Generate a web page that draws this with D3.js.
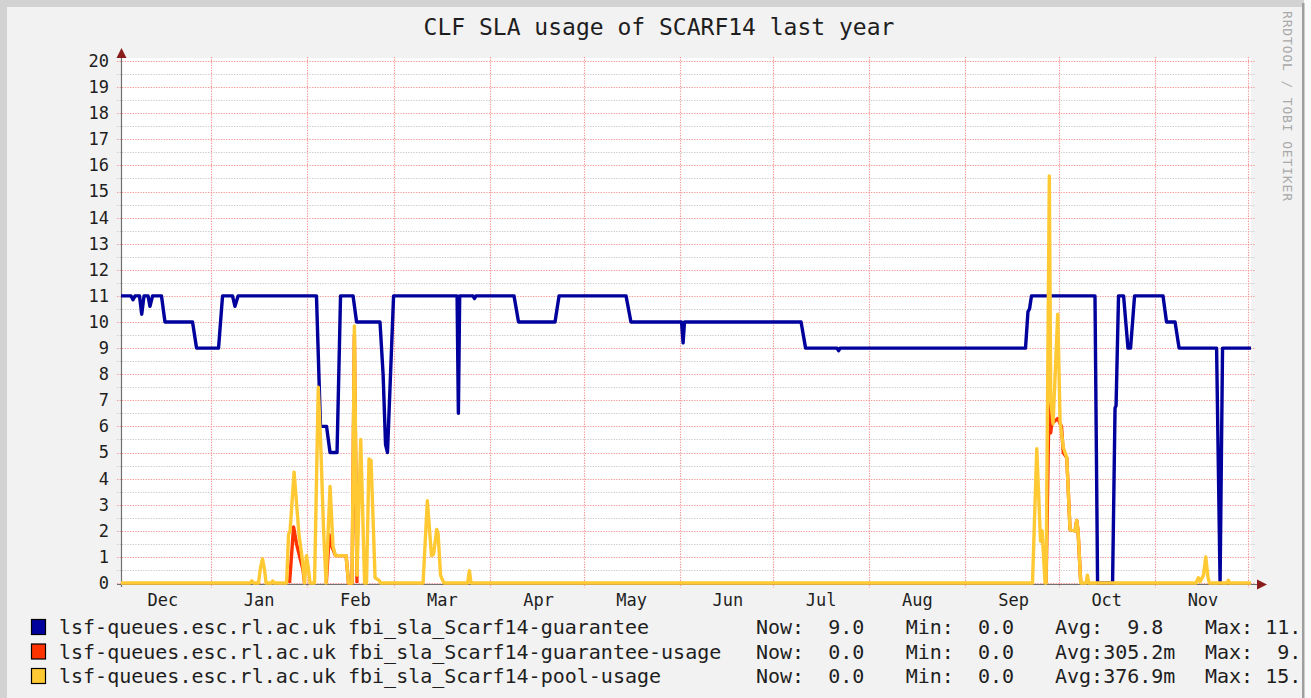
<!DOCTYPE html>
<html>
<head>
<meta charset="utf-8">
<script src="https://cdn.jsdelivr.net/npm/d3@7"></script>
<style>
  html, body { margin: 0; padding: 0; background: #ffffff; }
  svg { display: block; }
  text { font-family: "DejaVu Sans Mono", "Liberation Mono", monospace; }
</style>
</head>
<body>
<svg id="chart" width="1311" height="698"></svg>
<script>
// ---- data -------------------------------------------------------------
const titleText = "CLF SLA usage of SCARF14 last year";
const watermarkText = "RRDTOOL / TOBI OETIKER";

const timeDomain = ["2014-12-03T00", "2015-12-01T23"];
const yTickValues = [0, 1, 2, 3, 4, 5, 6, 7, 8, 9, 10, 11, 12, 13, 14, 15, 16, 17, 18, 19, 20];
const yMinorValues = [0.5, 1.5, 2.5, 3.5, 4.5, 5.5, 6.5, 7.5, 8.5, 9.5, 10.5, 11.5, 12.5, 13.5, 14.5, 15.5, 16.5, 17.5, 18.5, 19.5];

const monthStarts = ["2015-01-01T00", "2015-02-01T00", "2015-03-01T00", "2015-04-01T00",
  "2015-05-01T00", "2015-06-01T00", "2015-07-01T00", "2015-08-01T00", "2015-09-01T00",
  "2015-10-01T00", "2015-11-01T00", "2015-12-01T00"];
const monthLabelDates = ["2014-12-16T08", "2015-01-16T08", "2015-02-16T08", "2015-03-16T08",
  "2015-04-16T08", "2015-05-16T08", "2015-06-16T08", "2015-07-16T08", "2015-08-16T08",
  "2015-09-16T08", "2015-10-16T08", "2015-11-16T08"];
const monthLabels = ["Dec", "Jan", "Feb", "Mar", "Apr", "May", "Jun", "Jul", "Aug", "Sep", "Oct", "Nov"];

// fbi_sla_Scarf14-guarantee
const guarantee = [
  ["2014-12-03T00", 11], ["2014-12-06T06", 11], ["2014-12-06T21", 10.85], ["2014-12-07T12", 11],
  ["2014-12-08T23", 11], ["2014-12-09T16", 10.3], ["2014-12-10T10", 11], ["2014-12-11T17", 11],
  ["2014-12-12T08", 10.6], ["2014-12-13T04", 11], ["2014-12-16T01", 11], ["2014-12-17T04", 10],
  ["2014-12-26T01", 10], ["2014-12-27T08", 9], ["2015-01-03T10", 9], ["2015-01-04T17", 11],
  ["2015-01-07T22", 11], ["2015-01-08T17", 10.6], ["2015-01-09T17", 11], ["2015-02-03T23", 11],
  ["2015-02-05T06", 6], ["2015-02-07T05", 6], ["2015-02-08T08", 5], ["2015-02-10T14", 5],
  ["2015-02-11T17", 11], ["2015-02-15T18", 11], ["2015-02-16T21", 10], ["2015-02-24T10", 10],
  ["2015-02-25T10", 8], ["2015-02-26T05", 5.3], ["2015-02-26T20", 5], ["2015-02-28T19", 11],
  ["2015-03-21T06", 11], ["2015-03-21T16", 6.5], ["2015-03-22T02", 11], ["2015-03-26T09", 11],
  ["2015-03-26T21", 10.9], ["2015-03-27T08", 11], ["2015-04-08T14", 11], ["2015-04-10T01", 10],
  ["2015-04-21T19", 10], ["2015-04-23T02", 11], ["2015-05-14T16", 11], ["2015-05-16T06", 10],
  ["2015-06-01T13", 10], ["2015-06-02T01", 9.2], ["2015-06-02T12", 10], ["2015-07-10T01", 10],
  ["2015-07-11T12", 9], ["2015-07-21T15", 9], ["2015-07-22T03", 8.9], ["2015-07-22T14", 9],
  ["2015-09-20T08", 9], ["2015-09-21T03", 10.4], ["2015-09-21T15", 10.5], ["2015-09-22T06", 11],
  ["2015-10-12T17", 11], ["2015-10-13T13", 0], ["2015-10-18T09", 0], ["2015-10-19T04", 6.7],
  ["2015-10-19T12", 6.8], ["2015-10-20T07", 11], ["2015-10-21T22", 11], ["2015-10-23T08", 9],
  ["2015-10-24T04", 9], ["2015-10-25T11", 11], ["2015-11-03T15", 11], ["2015-11-04T18", 10],
  ["2015-11-07T12", 10], ["2015-11-08T19", 9], ["2015-11-20T21", 9], ["2015-11-22T00", 0],
  ["2015-11-22T19", 9], ["2015-12-01T23", 9]
];

// fbi_sla_Scarf14-guarantee-usage (null = no sample recorded)
const guaranteeUsage = [
  ["2015-01-26T07", 0], ["2015-01-27T14", 2.15], ["2015-01-28T13", 1.5],
  ["2015-01-29T16", 0.95], ["2015-01-30T15", 0.5], ["2015-01-31T03", 0], ["2015-01-31T04", null],
  ["2015-02-07T03", 0], ["2015-02-08T02", 1.85], ["2015-02-08T21", 1.4], ["2015-02-10T02", 1.05],
  ["2015-02-13T12", 1.05], ["2015-02-14T07", 0], ["2015-02-15T10", 0], ["2015-02-16T04", 9.5],
  ["2015-02-17T00", 0], ["2015-02-17T01", null],
  ["2015-09-26T23", 0], ["2015-09-27T22", 7.0], ["2015-09-28T11", 5.75], ["2015-09-28T18", 6.1],
  ["2015-09-30T17", 6.3], ["2015-10-01T22", 6.0], ["2015-10-02T12", 5.0], ["2015-10-03T15", 4.8],
  ["2015-10-04T16", 2.05], ["2015-10-06T07", 2.0], ["2015-10-06T20", 2.4], ["2015-10-07T06", 2.0],
  ["2015-10-08T03", 0]
];

// fbi_sla_Scarf14-pool-usage
const poolUsage = [
  ["2014-12-03T00", 0], ["2015-01-13T13", 0], ["2015-01-14T03", 0.08], ["2015-01-14T17", 0],
  ["2015-01-16T07", 0], ["2015-01-16T23", 0.6], ["2015-01-17T14", 0.92], ["2015-01-18T06", 0.5],
  ["2015-01-18T17", 0], ["2015-01-20T12", 0], ["2015-01-20T21", 0.08], ["2015-01-21T07", 0],
  ["2015-01-25T08", 0], ["2015-01-25T23", 1.85], ["2015-01-26T11", 2.0], ["2015-01-27T18", 4.25],
  ["2015-01-29T08", 1.85], ["2015-01-30T11", 0.85], ["2015-01-31T03", 0], ["2015-01-31T18", 1.05],
  ["2015-02-01T10", 0.5], ["2015-02-01T21", 0], ["2015-02-03T08", 0], ["2015-02-04T13", 7.5],
  ["2015-02-05T10", 5.0], ["2015-02-06T06", 2.0], ["2015-02-07T01", 0], ["2015-02-08T08", 3.7],
  ["2015-02-09T07", 1.4], ["2015-02-10T02", 1.05], ["2015-02-13T12", 1.05], ["2015-02-14T07", 0],
  ["2015-02-15T10", 0], ["2015-02-16T04", 9.85], ["2015-02-17T00", 0.3], ["2015-02-18T05", 5.5],
  ["2015-02-19T11", 0], ["2015-02-20T02", 0], ["2015-02-20T21", 4.75], ["2015-02-21T13", 4.7],
  ["2015-02-22T20", 0.2], ["2015-02-24T03", 0.1], ["2015-02-24T14", 0], ["2015-03-10T07", 0],
  ["2015-03-11T16", 3.15], ["2015-03-13T00", 1.05], ["2015-03-13T16", 1.1], ["2015-03-14T17", 2.05],
  ["2015-03-15T03", 1.9], ["2015-03-15T22", 0.3], ["2015-03-16T10", 0.15], ["2015-03-17T01", 0],
  ["2015-03-24T15", 0], ["2015-03-25T05", 0.47], ["2015-03-25T18", 0], ["2015-09-22T14", 0],
  ["2015-09-23T23", 5.15], ["2015-09-25T04", 1.6], ["2015-09-25T16", 2.0], ["2015-09-26T15", 0],
  ["2015-09-26T23", 0], ["2015-09-28T00", 15.6], ["2015-09-28T11", 7.0], ["2015-09-29T05", 6.1],
  ["2015-09-30T17", 10.3], ["2015-10-01T11", 6.2], ["2015-10-02T12", 5.2], ["2015-10-03T15", 4.8],
  ["2015-10-04T16", 2.05], ["2015-10-06T07", 2.0], ["2015-10-06T20", 2.4], ["2015-10-07T06", 2.0],
  ["2015-10-08T03", 0], ["2015-10-09T20", 0], ["2015-10-10T06", 0.3], ["2015-10-10T17", 0],
  ["2015-11-14T06", 0], ["2015-11-15T00", 0.2], ["2015-11-15T13", 0.05], ["2015-11-16T16", 0.3],
  ["2015-11-17T09", 1.0], ["2015-11-18T03", 0.2], ["2015-11-18T14", 0], ["2015-11-24T06", 0],
  ["2015-11-24T16", 0.1], ["2015-11-25T01", 0], ["2015-12-01T23", 0]
];

const seriesNames = [
  "lsf-queues.esc.rl.ac.uk fbi_sla_Scarf14-guarantee",
  "lsf-queues.esc.rl.ac.uk fbi_sla_Scarf14-guarantee-usage",
  "lsf-queues.esc.rl.ac.uk fbi_sla_Scarf14-pool-usage"
];
const nowText = ["  9.0", "  0.0", "  0.0"];
const minText = ["  0.0", "  0.0", "  0.0"];
const avgText = ["  9.8", "305.2m", "376.9m"];
const maxText = [" 11.0", "  9.5", " 15.6"];

// ---- styles & layout --------------------------------------------------
const seriesColors = ["#00009c", "#ff3300", "#ffc933"];
const W = 1311, H = 698;
const plot = { left: 121, right: 1251, top: 61, bottom: 583 };

const parse = d3.utcParse("%Y-%m-%dT%H");
const svg = d3.select("#chart");

const x = d3.scaleUtc().domain(timeDomain.map(parse)).range([plot.left, plot.right]);
const y = d3.scaleLinear().domain([0, 20]).range([plot.bottom, plot.top]);

// frame
svg.append("rect").attr("x", 0).attr("y", 0).attr("width", W).attr("height", H).attr("fill", "#fafafa");
svg.append("rect").attr("x", 0).attr("y", 0).attr("width", 1304).attr("height", H).attr("fill", "#d2d2d2");
svg.append("rect").attr("x", 7).attr("y", 7).attr("width", 1295).attr("height", H - 7).attr("fill", "#f2f2f2");
svg.append("rect").attr("x", 1302).attr("y", 3).attr("width", 2.5).attr("height", H - 3).attr("fill", "#9e9e9e");

const defs = svg.append("defs");
defs.append("clipPath").attr("id", "frameClip")
  .append("rect").attr("x", 0).attr("y", 0).attr("width", 1302).attr("height", H);

const root = svg.append("g").attr("clip-path", "url(#frameClip)");

// plot canvas
root.append("rect")
  .attr("x", plot.left).attr("y", plot.top - 3)
  .attr("width", plot.right - plot.left).attr("height", plot.bottom - plot.top + 3)
  .attr("fill", "#ffffff");

// grid: grey dotted half-unit lines, red dotted unit and month lines
const grid = root.append("g");
grid.selectAll("line.minor").data(yMinorValues).join("line")
  .attr("class", "minor")
  .attr("x1", plot.left - 4).attr("x2", plot.right + 4)
  .attr("y1", d => Math.round(y(d)) + 0.5).attr("y2", d => Math.round(y(d)) + 0.5)
  .attr("stroke", "#cccccc").attr("stroke-width", 1.2).attr("stroke-dasharray", "1.3 1.3");
grid.selectAll("line.major").data(yTickValues).join("line")
  .attr("class", "major")
  .attr("x1", plot.left - 4).attr("x2", plot.right + 4)
  .attr("y1", d => Math.round(y(d)) + 0.5).attr("y2", d => Math.round(y(d)) + 0.5)
  .attr("stroke", "#f59898").attr("stroke-width", 1.2).attr("stroke-dasharray", "1.3 1.3");
grid.selectAll("line.vmajor").data(monthStarts.map(parse)).join("line")
  .attr("class", "vmajor")
  .attr("x1", d => Math.round(x(d)) + 0.5).attr("x2", d => Math.round(x(d)) + 0.5)
  .attr("y1", plot.top - 4).attr("y2", plot.bottom + 5)
  .attr("stroke", "#f59898").attr("stroke-width", 1.2).attr("stroke-dasharray", "1.3 1.3");

// axes lines
root.append("line").attr("x1", plot.left + 0.5).attr("x2", plot.left + 0.5)
  .attr("y1", plot.bottom + 4).attr("y2", plot.top - 8)
  .attr("stroke", "#707070").attr("stroke-width", 1.2);
root.append("line").attr("x1", plot.left - 4).attr("x2", plot.right + 10)
  .attr("y1", plot.bottom + 1.5).attr("y2", plot.bottom + 1.5)
  .attr("stroke", "#707070").attr("stroke-width", 1.2);

// y axis labels
const yAxis = d3.axisLeft(y).tickValues(yTickValues).tickSize(0).tickPadding(12).tickFormat(d3.format("d"));
const yg = root.append("g").attr("transform", `translate(${plot.left},0)`).call(yAxis);
yg.select(".domain").remove();
yg.selectAll("text").attr("font-size", 17).attr("fill", "#1e1e1e")
  .attr("font-family", "DejaVu Sans Mono");

// x axis month labels
const xAxis = d3.axisBottom(x).tickValues(monthLabelDates.map(parse)).tickSize(0).tickPadding(0)
  .tickFormat((d, i) => monthLabels[i]);
const xg = root.append("g").attr("transform", `translate(0,${plot.bottom})`).call(xAxis);
xg.select(".domain").remove();
xg.selectAll("text").attr("font-size", 17).attr("fill", "#1e1e1e")
  .attr("font-family", "DejaVu Sans Mono").attr("dy", null).attr("y", 23);

// data lines
defs.append("clipPath").attr("id", "plotClip")
  .append("rect").attr("x", plot.left).attr("y", plot.top - 20)
  .attr("width", plot.right - plot.left).attr("height", plot.bottom - plot.top + 30);

const line = d3.line()
  .defined(d => d[1] !== null)
  .x(d => x(parse(d[0])))
  .y(d => y(d[1]));
const lines = root.append("g").attr("clip-path", "url(#plotClip)");
[guarantee, guaranteeUsage, poolUsage].forEach((series, i) => {
  lines.append("path").datum(series)
    .attr("d", line)
    .attr("fill", "none")
    .attr("stroke", seriesColors[i])
    .attr("stroke-width", 3.4)
    .attr("stroke-linejoin", "round")
    .attr("stroke-linecap", "butt");
});

// axis arrows
root.append("path")
  .attr("d", `M${plot.left - 4.5},${plot.top - 3} L${plot.left + 5.5},${plot.top - 3} L${plot.left + 0.5},${plot.top - 13} Z`)
  .attr("fill", "#8b1c1c");
root.append("path")
  .attr("d", `M${plot.right + 6},${plot.bottom - 3.5} L${plot.right + 6},${plot.bottom + 6.5} L${plot.right + 16},${plot.bottom + 1.5} Z`)
  .attr("fill", "#8b1c1c");

// title
root.append("text")
  .attr("x", 659).attr("y", 34.5)
  .attr("text-anchor", "middle")
  .attr("font-size", 23)
  .attr("fill", "#1e1e1e")
  .text(titleText);

// watermark
root.append("text")
  .attr("transform", "translate(1283,11) rotate(90)")
  .attr("font-size", 13)
  .attr("letter-spacing", 0.85)
  .attr("fill", "#a8a8a8")
  .text(watermarkText);

// legend
const legendRowY = [619, 643.5, 668];
const legend = root.append("g");
seriesNames.forEach((name, i) => {
  const top = legendRowY[i];
  legend.append("rect")
    .attr("x", 31.5).attr("y", top + 0.5).attr("width", 14).attr("height", 15)
    .attr("fill", seriesColors[i]).attr("stroke", "#000").attr("stroke-width", 1.2);
  const base = top + 15;
  const cols = [
    [59, name],
    [756, "Now:" + nowText[i]],
    [905.7, "Min:" + minText[i]],
    [1055, "Avg:" + avgText[i]],
    [1205, "Max:" + maxText[i]]
  ];
  cols.forEach(([cx, str]) => {
    legend.append("text")
      .attr("x", cx).attr("y", base)
      .attr("font-size", 20)
      .attr("fill", "#1e1e1e")
      .style("white-space", "pre")
      .text(str);
  });
});
</script>
</body>
</html>
